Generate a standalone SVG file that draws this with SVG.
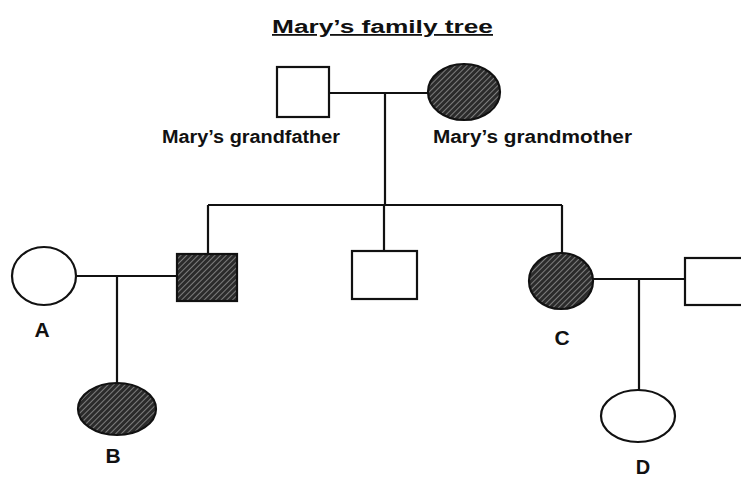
<svg xmlns="http://www.w3.org/2000/svg" width="741" height="479" viewBox="0 0 741 479">
<defs>
<pattern id="hatch" patternUnits="userSpaceOnUse" width="4" height="4" patternTransform="rotate(45)">
<rect width="4" height="4" fill="#2b2b2b"/>
<line x1="0" y1="0" x2="0" y2="4" stroke="#a0a0a0" stroke-width="1.4"/>
</pattern>
<style>
.s{fill:#fff;stroke:#111;stroke-width:2.2}
.h{fill:url(#hatch);stroke:#111;stroke-width:2.2}
.ln{stroke:#111;stroke-width:2.2;fill:none}
.t{font-family:"Liberation Sans",Arial,sans-serif;font-weight:bold;fill:#111}
</style>
</defs>
<rect width="741" height="479" fill="#fff"/>
<text class="t" x="272" y="33" font-size="18" textLength="221" lengthAdjust="spacingAndGlyphs" text-decoration="underline">Mary’s family tree</text>
<g id="connectors">
<path class="ln" d="M329 93H428M385 93V205M208 205H562M208 205V254M384 205V251M562 205V253M77 276H177M117 276V383M593 279H685M639 279V390"/>
</g>
<g id="grandfather">
<rect class="s" x="277" y="67" width="52" height="50"/>
<text class="t" x="162" y="143" font-size="18" textLength="178" lengthAdjust="spacingAndGlyphs">Mary’s grandfather</text>
</g>
<g id="grandmother">
<ellipse class="h" cx="464" cy="92" rx="36" ry="28"/>
<text class="t" x="433" y="143" font-size="18" textLength="199" lengthAdjust="spacingAndGlyphs">Mary’s grandmother</text>
</g>
<g id="father">
<rect class="h" x="177" y="254" width="60" height="47"/>
</g>
<g id="uncle">
<rect class="s" x="352" y="251" width="65" height="48"/>
</g>
<g id="C">
<ellipse class="h" cx="561" cy="281" rx="32" ry="28"/>
<text class="t" x="562" y="345" font-size="21" text-anchor="middle">C</text>
</g>
<g id="husbandC">
<rect class="s" x="685" y="258" width="70" height="47"/>
</g>
<g id="A">
<ellipse class="s" cx="44" cy="276" rx="32" ry="29"/>
<text class="t" x="42" y="337" font-size="21" text-anchor="middle">A</text>
</g>
<g id="B">
<ellipse class="h" cx="117" cy="409" rx="39" ry="26"/>
<text class="t" x="113" y="463" font-size="21" text-anchor="middle">B</text>
</g>
<g id="D">
<ellipse class="s" cx="638" cy="416" rx="37" ry="26"/>
<text class="t" x="643" y="474" font-size="20" text-anchor="middle">D</text>
</g>
</svg>
